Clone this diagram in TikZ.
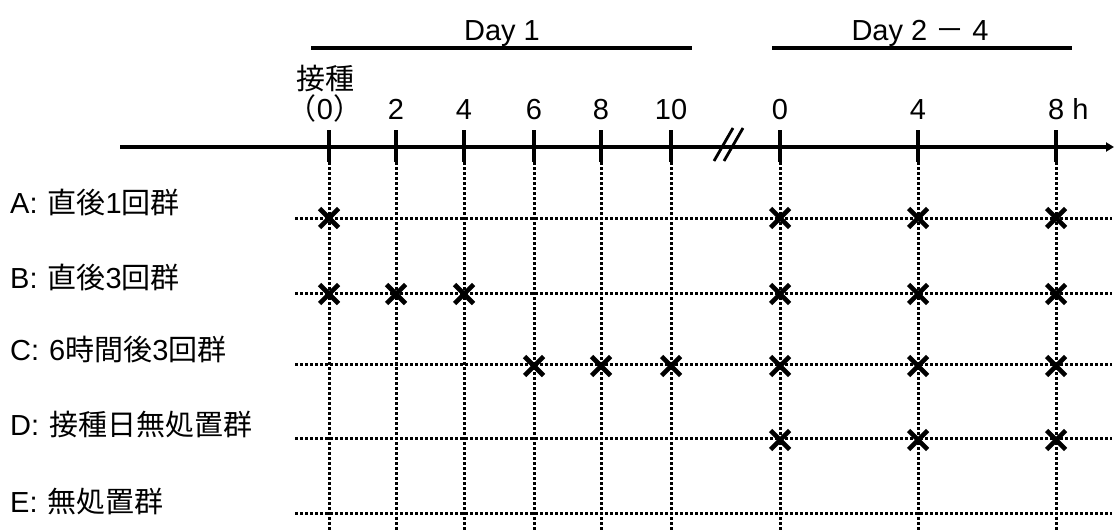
\documentclass[tikz,border=0pt]{standalone}
\usepackage{fontspec}
\setmainfont{Liberation Sans}
\newfontfamily\cjk{Noto Sans CJK JP}
\usetikzlibrary{arrows.meta}
\newcommand{\lsep}{\hspace{10pt}}
\begin{document}
\begin{tikzpicture}[x=1pt,y=-1pt,
  txt/.style={font=\fontsize{29}{32}\selectfont, inner sep=0pt},
  gridline/.style={line width=3pt, dash pattern=on 3pt off 2pt},
  tickline/.style={line width=3.8pt},
  xmark/.style={line width=4.6pt},
  bar/.style={line width=3.2pt},
  axisline/.style={line width=3.2pt, -{Triangle[length=8pt,width=9pt]}}]
\useasboundingbox (0,0) rectangle (1114,530);

% rows
\foreach \r/\y in {A/218, B/293, C/364, D/438, E/513}{
  \coordinate (row\r L) at (295,\y);
  \coordinate (row\r R) at (1112,\y);
  \draw[gridline] (row\r L) -- (row\r R);
}

% ticks
\foreach \n/\x in {t0/329, t2/396, t4/464, t6/534, t8/601, t10/671, u0/780, u4/918, u8/1056}{
  \coordinate (\n top) at (\x,130);
  \coordinate (\n mid) at (\x,162);
  \coordinate (\n bot) at (\x,530);
  \draw[gridline] (\n mid) -- (\n bot);
}

% axis
\coordinate (axL) at (120,147);
\coordinate (axR) at (1114,147);
\draw[axisline] (axL) -- (axR);
\foreach \n in {t0,t2,t4,t6,t8,t10,u0,u4,u8}{
  \draw[tickline] (\n top) -- (\n mid);
}
% break mark
\coordinate (b1a) at (714,161); \coordinate (b1b) at (733,128);
\coordinate (b2a) at (724,161); \coordinate (b2b) at (743,128);
\draw[line width=2.8pt] (b1a) -- (b1b);
\draw[line width=2.8pt] (b2a) -- (b2b);

% day bars
\coordinate (d1L) at (311,48); \coordinate (d1R) at (692,48);
\coordinate (d2L) at (772,48); \coordinate (d2R) at (1072,48);
\draw[bar] (d1L) -- (d1R);
\draw[bar] (d2L) -- (d2R);
\node[txt,anchor=base] (day1) at (502,40) {Day 1};
\node[txt,anchor=base] (day2) at (920,40) {Day 2 {\cjk －} 4};

% tick labels
\node[txt,anchor=base] (lab0a) at (325,89) {\cjk 接種};
\node[txt,anchor=base] (lab0) at (325,119) {{\cjk （}0{\cjk ）}};
\foreach \n/\x/\t in {l2/396/2, l4/464/4, l6/534/6, l8/601/8, l10/671/10, m0/780/0, m4/918/4}{
  \node[txt,anchor=base] (\n) at (\x,119) {\t};
}
\node[txt,anchor=base west] (m8) at (1048,119) {8 h};

% row labels
\node[txt,anchor=base west] (labA) at (10,213) {A:\lsep{\cjk 直後}1{\cjk 回群}};
\node[txt,anchor=base west] (labB) at (10,288) {B:\lsep{\cjk 直後}3{\cjk 回群}};
\node[txt,anchor=base west] (labC) at (10,360) {C:\lsep 6{\cjk 時間後}3{\cjk 回群}};
\node[txt,anchor=base west] (labD) at (10,435) {D:\lsep{\cjk 接種日無処置群}};
\node[txt,anchor=base west] (labE) at (10,512) {E:\lsep{\cjk 無処置群}};

% x marks
\foreach \x/\y in {329/218, 780/218, 918/218, 1056/218,
                   329/294, 396/294, 464/294, 780/294, 918/294, 1056/294,
                   534/366, 601/366, 671/366, 780/366, 918/366, 1056/366,
                   780/440, 918/440, 1056/440}{
  \draw[xmark] (\x-9.5,\y-9.5) -- (\x+9.5,\y+9.5);
  \draw[xmark] (\x-9.5,\y+9.5) -- (\x+9.5,\y-9.5);
}
\end{tikzpicture}
\end{document}
